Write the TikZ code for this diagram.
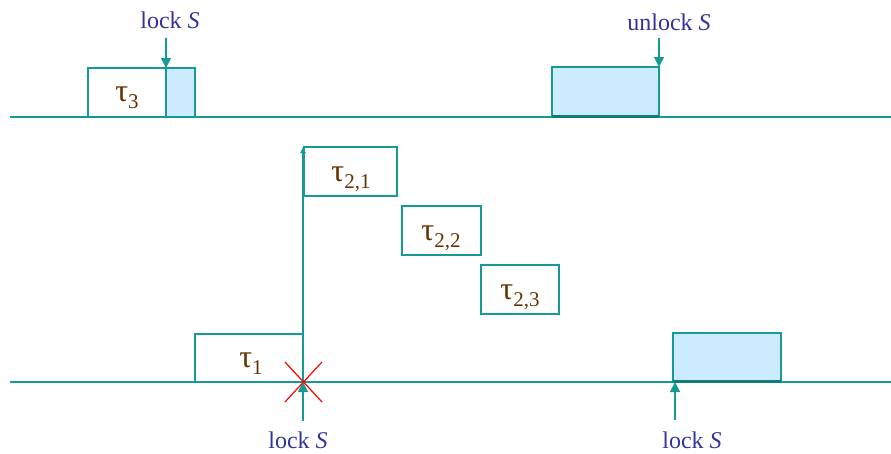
\documentclass[tikz,border=0pt]{standalone}
\usepackage{fontspec}
\setmainfont{Liberation Serif}
\usetikzlibrary{arrows.meta}
\definecolor{teal1}{RGB}{20,155,150}
\definecolor{shade}{RGB}{204,235,255}
\definecolor{lbl}{RGB}{51,51,153}
\definecolor{tau}{RGB}{102,51,0}
\newcommand{\mysub}[1]{\raisebox{-7pt}{\fontsize{21}{22}\selectfont #1}}
\begin{document}
\begin{tikzpicture}[x=1pt,y=-1pt,
  axis/.style={draw=teal1,line width=1.5pt},
  job/.style={draw=teal1,line width=1.5pt},
  crit/.style={draw=teal1,fill=shade,line width=1.5pt},
  arr/.style={draw=teal1,line width=1.5pt,-{Triangle[length=10pt,width=10pt]}},
  lk/.style={text=lbl,font=\fontsize{24}{26}\selectfont,inner sep=0pt},
  tl/.style={text=tau,font=\fontsize{32}{34}\selectfont,inner sep=0pt}]
\useasboundingbox (0,0) rectangle (891,453);
% axes
\coordinate (t3a) at (10,117); \coordinate (t3b) at (891,117);
\coordinate (t1a) at (10,382); \coordinate (t1b) at (891,382);
\draw[axis] (t3a) -- (t3b);
\draw[axis] (t1a) -- (t1b);
% tau3
\draw[crit] (166,68) rectangle (195,117);
\draw[job] (88,68) rectangle (166,117);
\node[tl] (l3) at (127,98) {τ\mysub{3}};
\coordinate (c3) at (166,68);
\node[lk] (lk3) at (170,20) {lock \textit{S}};
\coordinate (a3) at (166,38);
\draw[arr] (a3) -- (c3);
% unlock box
\draw[crit] (552,67) rectangle (659,117);
\draw[draw=teal1!80!black,line width=2.2pt] (552,116.5) -- (659,116.5);
\coordinate (c4) at (659,67);
\node[lk] (lk4) at (669,22) {unlock \textit{S}};
\coordinate (a4) at (659,38);
\draw[arr] (a4) -- (c4);
% tau1
\draw[job] (195,334) rectangle (303,382);
\node[tl] (l1) at (251,364) {τ\mysub{1}};
\coordinate (c1) at (303,382);
\coordinate (a1) at (303,421);
\draw[arr] (a1) -- (c1);
\node[lk] (lk1) at (298,440) {lock \textit{S}};
% vertical preemption line
\coordinate (top) at (303,147);
\draw[draw=teal1,line width=1.5pt,-{Triangle[length=6pt,width=5pt]}] (c1) -- (top);
\draw[red,line width=1.2pt] (285,362) -- (322,402);
\draw[red,line width=1.2pt] (322,362) -- (285,402);
% tau2 jobs
\draw[job] (304,147) rectangle (397,196);
\node[tl] (l21) at (351,179) {τ\mysub{2,1}};
\draw[job] (402,206) rectangle (481,255);
\node[tl] (l22) at (441,238) {τ\mysub{2,2}};
\draw[job] (481,265) rectangle (559,314);
\node[tl] (l23) at (520,297) {τ\mysub{2,3}};
% right bottom
\draw[crit] (673,333) rectangle (781,382);
\draw[draw=teal1!80!black,line width=2.2pt] (673,381.5) -- (781,381.5);
\coordinate (c5) at (675,382);
\coordinate (a5) at (675,420);
\draw[arr] (a5) -- (c5);
\node[lk] (lk5) at (692,440) {lock \textit{S}};
\end{tikzpicture}
\end{document}
